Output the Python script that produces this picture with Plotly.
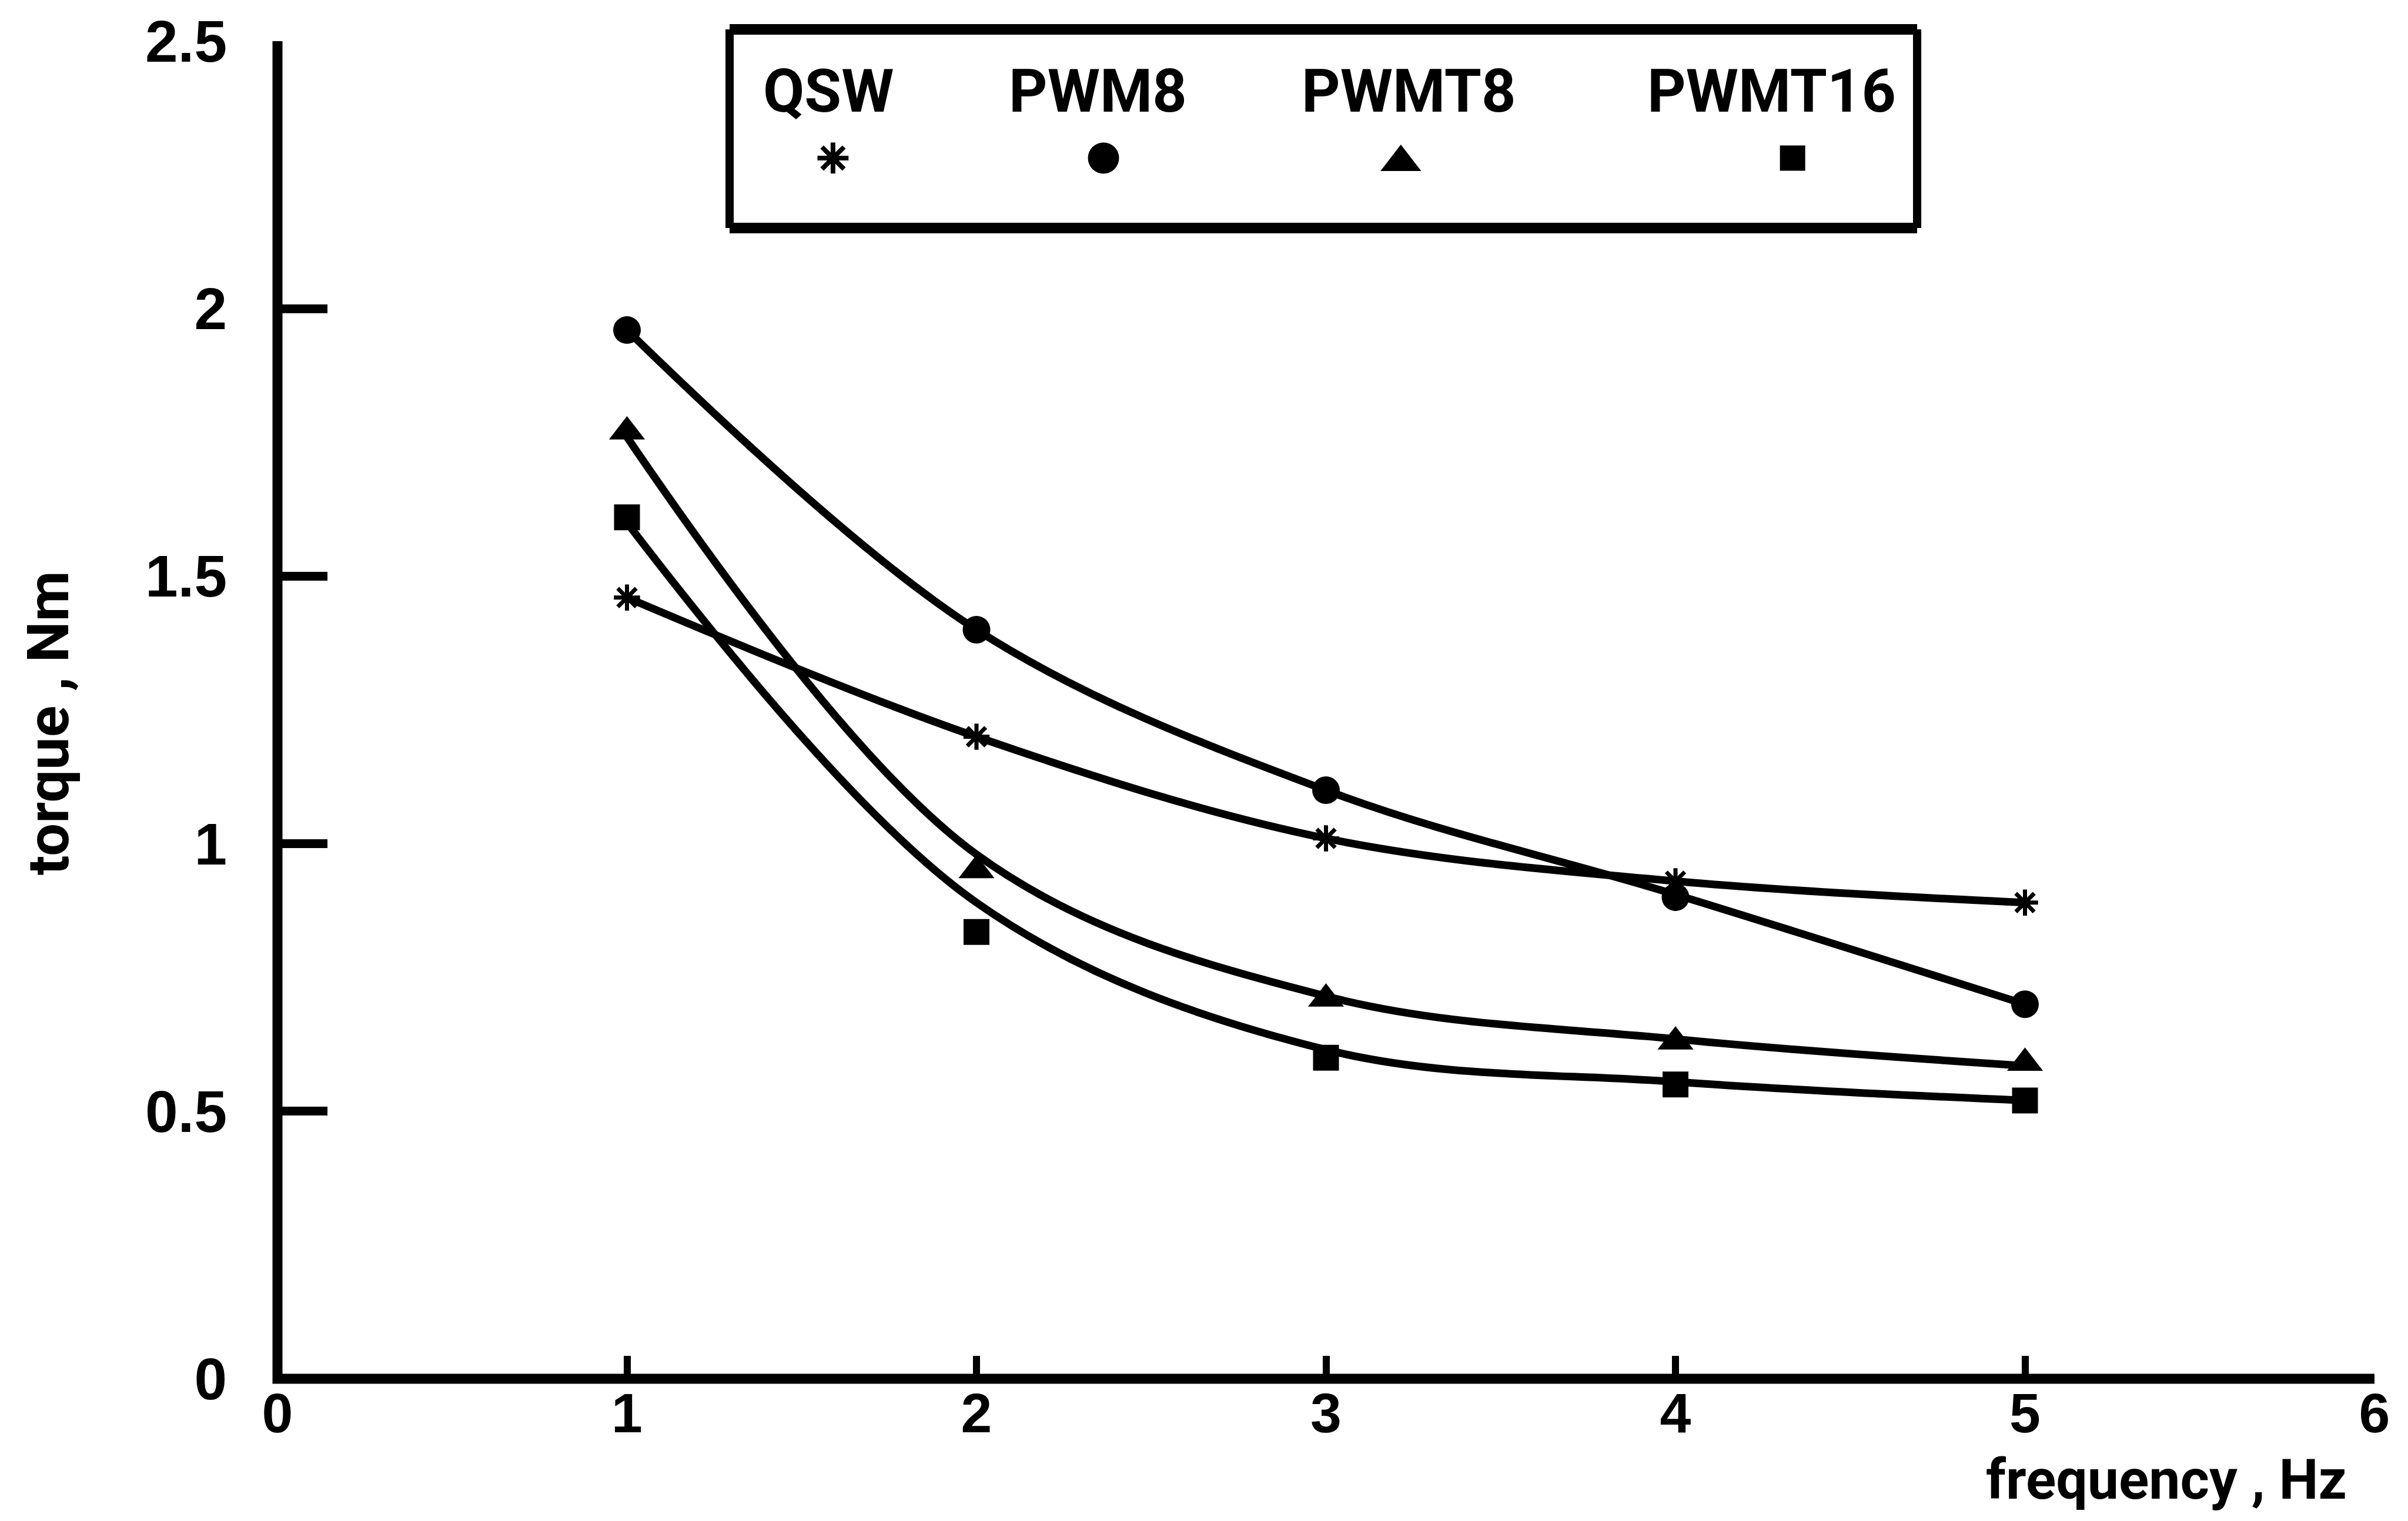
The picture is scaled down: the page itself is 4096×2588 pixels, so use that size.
import plotly.graph_objects as go

# Measured torque vs. drive frequency for four switching strategies
freq = [1, 2, 3, 4, 5]
torque_qsw = [1.46, 1.20, 1.01, 0.93, 0.89]
torque_pwm8 = [1.96, 1.40, 1.10, 0.90, 0.70]
torque_pwmt8 = [1.77, 0.95, 0.71, 0.63, 0.59]
torque_pwmt16 = [1.61, 0.835, 0.60, 0.55, 0.52]

# Hand-faired trend curves (knots at each measured frequency)
curve_qsw = [1.46, 1.20, 1.01, 0.93, 0.89]
curve_pwm8 = [1.96, 1.40, 1.10, 0.905, 0.70]
curve_pwmt8 = [1.76, 0.98, 0.715, 0.635, 0.585]
curve_pwmt16 = [1.60, 0.89, 0.615, 0.555, 0.52]

series_names = ["QSW", "PWM8", "PWMT8", "PWMT16"]
x_ticks = [0, 1, 2, 3, 4, 5, 6]
y_ticks = [0, 0.5, 1, 1.5, 2, 2.5]
y_ticktext = ["0", "0.5", "1", "1.5", "2", "2.5"]

INK = "black"
LABEL_FONT = "Roboto, Liberation Sans, Arial, sans-serif"
WIDE = "Liberation Sans, Arial, Helvetica, sans-serif"

styles = {
    "QSW": dict(symbol="asterisk-open", size=37, line=dict(width=7, color=INK), color=INK),
    "PWM8": dict(symbol="circle", size=47, color=INK, line=dict(width=0)),
    "PWMT8": dict(symbol="triangle-up", size=53, color=INK, line=dict(width=0)),
    "PWMT16": dict(symbol="square", size=44, color=INK, line=dict(width=0)),
}
legend_styles = {
    "QSW": dict(symbol="asterisk-open", size=44, line=dict(width=8, color=INK), color=INK),
    "PWM8": dict(symbol="circle", size=53, color=INK, line=dict(width=0)),
    "PWMT8": dict(symbol="triangle-up", size=60, color=INK, line=dict(width=0)),
    "PWMT16": dict(symbol="square", size=43, color=INK, line=dict(width=0)),
}

measured = dict(zip(series_names, [torque_qsw, torque_pwm8, torque_pwmt8, torque_pwmt16]))
curves = dict(zip(series_names, [curve_qsw, curve_pwm8, curve_pwmt8, curve_pwmt16]))

fig = go.Figure()

# smooth trend lines
for name in series_names:
    fig.add_trace(go.Scatter(
        x=freq, y=curves[name], mode="lines",
        line=dict(color=INK, width=13, shape="spline", smoothing=1.0),
        hoverinfo="skip", showlegend=False,
    ))

# measured points
for name in series_names:
    fig.add_trace(go.Scatter(
        x=freq, y=measured[name], mode="markers", name=name,
        marker=styles[name], cliponaxis=False, showlegend=False,
    ))

# key box: labels over their symbols
key_x_text = [0.2627, 0.3911, 0.5394, 0.7126]
key_x_mark = [0.2649, 0.3939, 0.5357, 0.7225]
key_y_text = 0.9627
key_y_mark = [0.9126, 0.9126, 0.9095, 0.9126]

for i, name in enumerate(series_names):
    fig.add_trace(go.Scatter(
        x=[key_x_mark[i]], y=[key_y_mark[i]], mode="markers",
        marker=legend_styles[name], xaxis="x2", yaxis="y2",
        cliponaxis=False, showlegend=False, hoverinfo="skip",
    ))
    fig.add_annotation(
        text=name, x=key_x_text[i], y=key_y_text, xref="paper", yref="paper",
        xanchor="center", yanchor="middle", showarrow=False,
        font=dict(family=LABEL_FONT, size=102, color=INK, weight="bold"),
    )

box_left, box_right, box_top, box_bottom = 0.2156, 0.7819, 1.0088, 0.8603
for (x0, y0, x1, y1, w) in [
    (box_left, box_top, box_right, box_top, 18),
    (box_left, box_bottom, box_right, box_bottom, 18),
    (box_left, box_bottom, box_left, box_top, 14),
    (box_right, box_bottom, box_right, box_top, 14),
]:
    fig.add_shape(type="line", xref="paper", yref="paper", x0=x0, y0=y0, x1=x1, y1=y1,
                  line=dict(color=INK, width=w))

# the two axes drawn as one stroke along the plot-area edges
fig.add_shape(type="path", xref="paper", yref="paper",
              path="M 0,1 L 0,0 L 1,0",
              line=dict(color=INK, width=17), layer="above")

# axis titles
fig.add_annotation(
    text="torque , Nm", x=-0.1093, y=0.4900, xref="paper", yref="paper",
    textangle=-90, xanchor="center", yanchor="middle", showarrow=False,
    font=dict(family=LABEL_FONT, size=99, color=INK, weight="bold"),
)
fig.add_annotation(
    text="frequency , Hz", x=0.9874, y=-0.0752, xref="paper", yref="paper",
    xanchor="right", yanchor="middle", showarrow=False,
    font=dict(family=LABEL_FONT, size=95, color=INK, weight="bold"),
)

fig.update_layout(
    width=4096, height=2588,
    margin=dict(l=472, r=57, t=70, b=242, pad=0),
    paper_bgcolor="white", plot_bgcolor="white",
    showlegend=False,
    xaxis=dict(
        range=[x_ticks[0], x_ticks[-1]], tickmode="array", tickvals=x_ticks,
        ticktext=[str(v) for v in x_ticks], ticks="", showline=False,
        showgrid=False, zeroline=False, ticklabelstandoff=-5,
        tickfont=dict(family=WIDE, size=95, color=INK, weight="bold"),
        minor=dict(tickmode="array", tickvals=freq, ticks="inside",
                   ticklen=39, tickwidth=12, tickcolor=INK, showgrid=False),
    ),
    yaxis=dict(
        range=[y_ticks[0], y_ticks[-1]], tickmode="array", tickvals=y_ticks,
        ticktext=y_ticktext, ticks="", showline=False,
        showgrid=False, zeroline=False, ticklabelstandoff=85,
        tickfont=dict(family=WIDE, size=100, color=INK, weight="bold"),
        minor=dict(tickmode="array", tickvals=y_ticks[1:-1], ticks="inside",
                   ticklen=85, tickwidth=15, tickcolor=INK, showgrid=False),
    ),
    xaxis2=dict(overlaying="x", range=[0, 1], visible=False),
    yaxis2=dict(overlaying="y", range=[0, 1], visible=False),
)

fig.write_html("out.html")
